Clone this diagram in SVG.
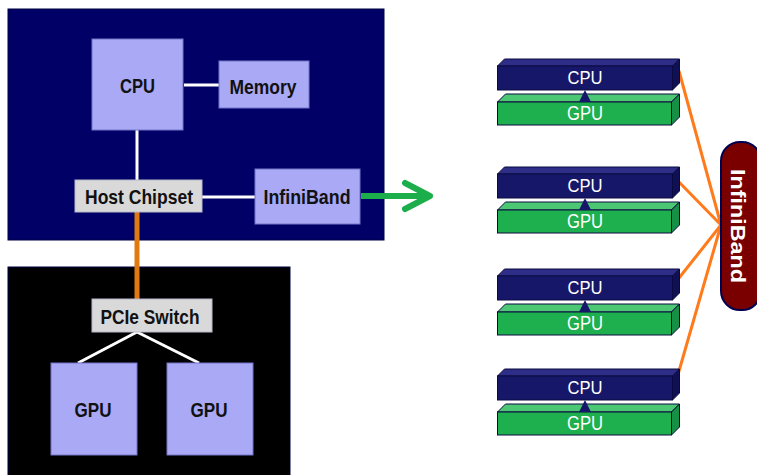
<svg xmlns="http://www.w3.org/2000/svg" width="757" height="475" viewBox="0 0 757 475">
<style>
.node{fill:#A9A9F6;stroke:#7474C8;stroke-width:1}
.gray{fill:#D9D9D9;stroke:#B8B8C8;stroke-width:1}
.lbl{font-family:"Liberation Sans",Arial,sans-serif;font-weight:bold;font-size:21px;fill:#111111;text-anchor:middle}
.wlink{stroke:#FFFFFF;stroke-width:3;fill:none}
.olink{stroke:#FF7A1A;stroke-width:3;fill:none}
.slab-txt{font-family:"Liberation Sans",Arial,sans-serif;font-size:18px;fill:#FFFFFF;text-anchor:middle}
.cf{fill:#17176A;stroke:#0A0A40;stroke-width:1}
.ct{fill:#2E2E88;stroke:#0A0A40;stroke-width:1}
.cs{fill:#101055;stroke:#0A0A40;stroke-width:1}
.gf{fill:#1EB04E;stroke:#0A0A40;stroke-width:1}
.gt{fill:#4CC874;stroke:#0A0A40;stroke-width:1}
.gs{fill:#169044;stroke:#0A0A40;stroke-width:1}
</style>
<defs>
<g id="stack">
<polygon class="ct" points="0,7 7,0 182,0 175,7"/>
<rect class="cf" x="0" y="7" width="175" height="24"/>
<polygon class="cs" points="175,7 182,0 182,24 175,31"/>
<polygon class="gt" points="0,43 8,35 182,35 174,43"/>
<rect class="gf" x="0" y="43" width="174" height="23"/>
<polygon class="gs" points="174,43 182,35 182,58 174,66"/>
<polygon points="87.5,31 81.5,43 93.5,43" fill="#17176A"/>
<text class="slab-txt" x="87.5" y="24.5" textLength="35" lengthAdjust="spacingAndGlyphs">CPU</text>
<text class="slab-txt" x="87.5" y="61" textLength="36" lengthAdjust="spacingAndGlyphs" style="font-size:20px">GPU</text>
</g>
</defs>
<rect width="757" height="475" fill="#FFFFFF"/>
<g id="host-panel"><rect x="8" y="9" width="376" height="231" fill="#000066" stroke="#000044"/></g>
<g id="gpu-panel"><rect x="8" y="267" width="282" height="215" fill="#000000" stroke="#000044"/></g>
<g id="connectors">
<line class="wlink" x1="184" y1="85" x2="219" y2="85"/>
<line class="wlink" x1="137" y1="130" x2="137" y2="180"/>
<line class="wlink" x1="202" y1="197" x2="255" y2="197"/>
<line x1="137" y1="212" x2="137" y2="299" stroke="#E07A10" stroke-width="5"/>
<line class="wlink" x1="137" y1="332" x2="78" y2="363"/>
<line class="wlink" x1="137" y1="332" x2="199" y2="363"/>
<line x1="361" y1="196" x2="427" y2="196" stroke="#1BAE4B" stroke-width="6"/>
<polyline points="405,183 430,196 405,209" stroke="#1BAE4B" stroke-width="6" fill="none" stroke-linecap="round" stroke-linejoin="round"/>
<line class="olink" x1="679" y1="71" x2="721" y2="225"/>
<line class="olink" x1="677" y1="180" x2="721" y2="225"/>
<line class="olink" x1="679" y1="278" x2="721" y2="225"/>
<line class="olink" x1="677" y1="378" x2="721" y2="225"/>
</g>
<g id="cpu"><rect class="node" x="92" y="39" width="91" height="91"/><text class="lbl" x="137.5" y="92.5" textLength="35" lengthAdjust="spacingAndGlyphs">CPU</text></g>
<g id="memory"><rect class="node" x="219" y="61" width="90" height="47"/><text class="lbl" x="263" y="93.5" textLength="67" lengthAdjust="spacingAndGlyphs">Memory</text></g>
<g id="host-chipset"><rect class="gray" x="75" y="180" width="127" height="32"/><text class="lbl" x="139" y="204" textLength="108" lengthAdjust="spacingAndGlyphs">Host Chipset</text></g>
<g id="infiniband-card"><rect class="node" x="255" y="169" width="105" height="55"/><text class="lbl" x="307" y="204" textLength="87" lengthAdjust="spacingAndGlyphs">InfiniBand</text></g>
<g id="pcie-switch"><rect class="gray" x="92" y="299" width="120" height="33"/><text class="lbl" x="150" y="323.5" textLength="99" lengthAdjust="spacingAndGlyphs">PCIe Switch</text></g>
<g id="gpu1"><rect class="node" x="51" y="363" width="86" height="92"/><text class="lbl" x="93" y="417" textLength="37" lengthAdjust="spacingAndGlyphs">GPU</text></g>
<g id="gpu2"><rect class="node" x="167" y="363" width="86" height="92"/><text class="lbl" x="209" y="417" textLength="37" lengthAdjust="spacingAndGlyphs">GPU</text></g>
<g id="stack1"><use href="#stack" x="497.5" y="59"/></g>
<g id="stack2"><use href="#stack" x="497.5" y="167"/></g>
<g id="stack3"><use href="#stack" x="497.5" y="269"/></g>
<g id="stack4"><use href="#stack" x="497.5" y="369"/></g>
<g id="infiniband-switch">
<rect x="721" y="142" width="40" height="168" rx="19" fill="#7A0000" stroke="#000050" stroke-width="2"/>
<text transform="translate(731,226) rotate(90)" x="0" y="0" textLength="114" lengthAdjust="spacingAndGlyphs" style="font-family:'Liberation Sans',Arial,sans-serif;font-weight:bold;font-size:20px;fill:#FFFFFF;text-anchor:middle">InfiniBand</text>
</g>
</svg>
